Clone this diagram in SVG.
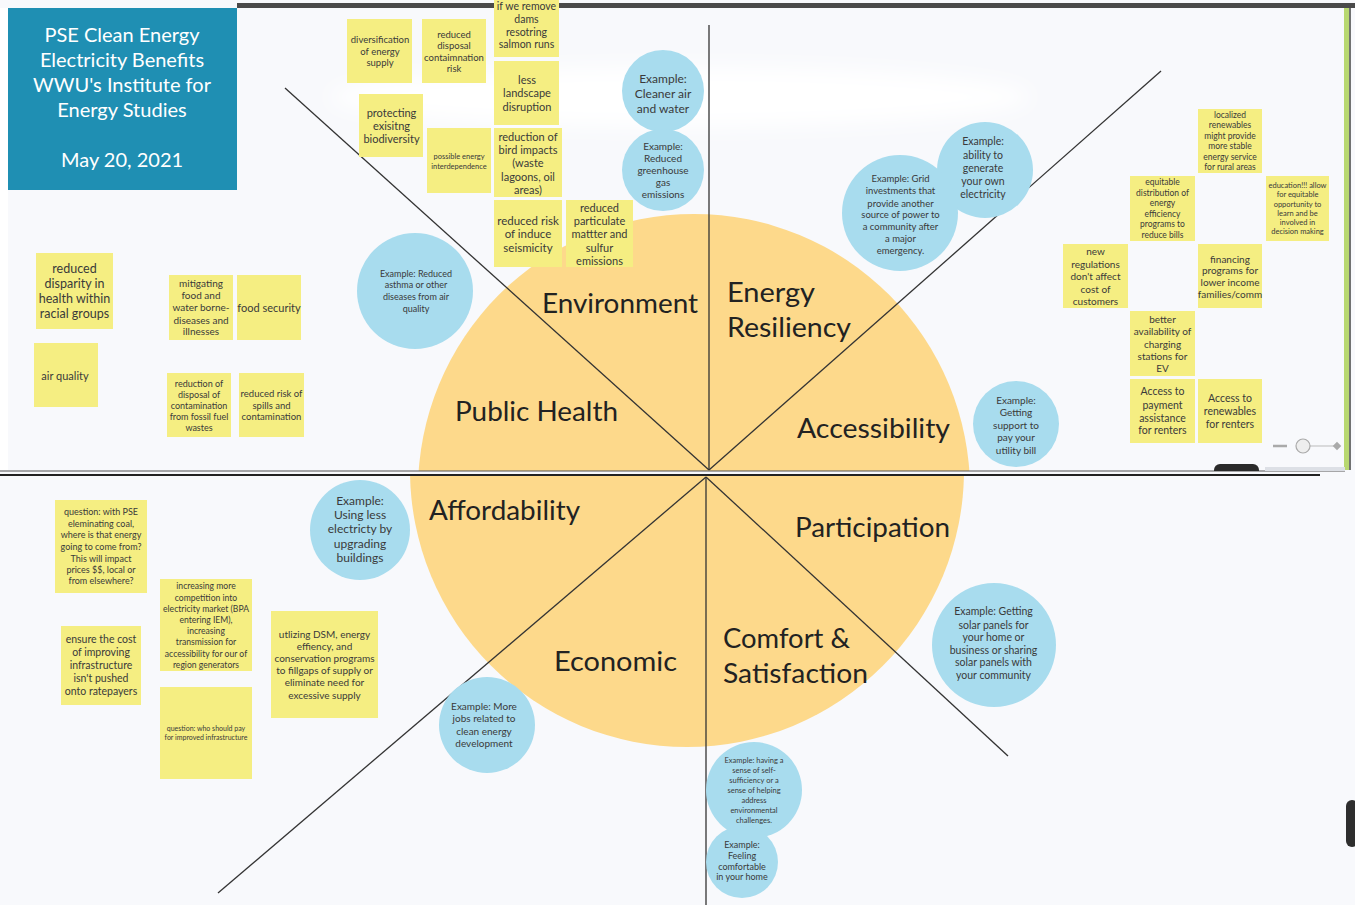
<svg xmlns="http://www.w3.org/2000/svg" width="1355" height="905" viewBox="0 0 1355 905">
<defs>
<style>
.st{fill:#f5ee82;}
.bc{fill:#a8dcee;}
.t{font-family:Lato,"Open Sans","Liberation Sans",sans-serif;fill:#3a3a3a;text-anchor:middle;}
.cat{font-family:Lato,"Open Sans","Liberation Sans",sans-serif;fill:#222;font-size:27px;}
.ln{stroke:#333;stroke-width:1.3;fill:none;}
.ttl{font-family:Lato,"Open Sans","Liberation Sans",sans-serif;fill:#fff;font-size:20px;text-anchor:middle;}
</style>
<clipPath id="topc"><rect x="0" y="0" width="1355" height="471"/></clipPath>
<clipPath id="botc"><rect x="0" y="476" width="1355" height="429"/></clipPath>
<filter id="blur" x="-20%" y="-50%" width="140%" height="200%"><feGaussianBlur stdDeviation="10"/></filter>
</defs>
<rect width="1355" height="905" fill="#f8f9fc"/>
<ellipse cx="680" cy="97" rx="350" ry="30" fill="#ffffff" filter="url(#blur)"/>
<rect x="0" y="8" width="8" height="462" fill="#ffffff"/>
<!-- screenshot frame -->
<rect x="237" y="3" width="1118" height="5" fill="#4a4a4a"/>
<rect x="1344" y="8" width="5" height="462" fill="#b8d870"/>
<line x1="1350" y1="8" x2="1350" y2="470" stroke="#444" stroke-width="1.5"/>
<rect x="1346" y="800" width="12" height="47" rx="6" fill="#2e2e2e"/>
<!-- big circle -->
<g id="wheel">
<circle cx="694" cy="490" r="276" fill="#fdd98b" clip-path="url(#topc)"/>
<circle cx="687" cy="470" r="277" fill="#fdd98b" clip-path="url(#botc)"/>
</g>
<g id="connectors">
<line class="ln" x1="709" y1="25" x2="709" y2="470"/>
<line class="ln" x1="285" y1="88" x2="709" y2="470"/>
<line class="ln" x1="1161" y1="71" x2="709" y2="470"/>
<line x1="0" y1="471" x2="1345" y2="471" stroke="#555" stroke-width="1.2"/>
<line x1="0" y1="475" x2="1320" y2="475" stroke="#222" stroke-width="2"/>
<line class="ln" x1="706" y1="477" x2="706" y2="905"/>
<line class="ln" x1="706" y1="477" x2="218" y2="893"/>
<line class="ln" x1="706" y1="477" x2="1008" y2="756"/>
</g>
<!-- UI bits -->
<g id="ui">
<line x1="1273" y1="446" x2="1287" y2="446" stroke="#aaa" stroke-width="2.5"/>
<line x1="1310" y1="446" x2="1337" y2="446" stroke="#bbb" stroke-width="1"/>
<circle cx="1303" cy="446" r="7" fill="#eeeeee" stroke="#aaa" stroke-width="1.2"/>
<rect x="1334" y="443" width="6" height="6" fill="#aaa" transform="rotate(45 1337 446)"/>
<rect x="1214" y="464" width="45" height="14" rx="6" fill="#2a2a2a" clip-path="url(#topc)"/>
<rect x="1265" y="467" width="80" height="4" fill="#dde0e6"/>
</g>
<!-- title -->
<g id="title">
<rect x="8" y="8" width="229" height="182" fill="#1f8fb3"/>
<text class="ttl"><tspan x="122" y="42">PSE Clean Energy</tspan><tspan x="122" y="67">Electricity Benefits</tspan><tspan x="122" y="92">WWU's Institute for</tspan><tspan x="122" y="117">Energy Studies</tspan><tspan x="122" y="167">May 20, 2021</tspan></text>
</g>
<!-- category labels -->
<g id="categories">
<text class="cat" x="542" y="313" textLength="156" lengthAdjust="spacingAndGlyphs">Environment</text>
<text class="cat" x="727" y="302" textLength="88" lengthAdjust="spacingAndGlyphs">Energy</text>
<text class="cat" x="727" y="337" textLength="124" lengthAdjust="spacingAndGlyphs">Resiliency</text>
<text class="cat" x="455" y="421" textLength="163" lengthAdjust="spacingAndGlyphs">Public Health</text>
<text class="cat" x="797" y="438" textLength="153" lengthAdjust="spacingAndGlyphs">Accessibility</text>
<text class="cat" x="429" y="520" textLength="151" lengthAdjust="spacingAndGlyphs">Affordability</text>
<text class="cat" x="795" y="537" textLength="155" lengthAdjust="spacingAndGlyphs">Participation</text>
<text class="cat" x="554" y="671" textLength="123" lengthAdjust="spacingAndGlyphs">Economic</text>
<text class="cat" x="723" y="648" textLength="127" lengthAdjust="spacingAndGlyphs">Comfort &amp;</text>
<text class="cat" x="723" y="683" textLength="145" lengthAdjust="spacingAndGlyphs">Satisfaction</text>
</g>
<!-- stickies top -->
<g id="s-diversification"><rect class="st" x="347" y="19" width="65" height="64"/><text class="t" font-size="9.5"><tspan x="380" y="43">diversification</tspan><tspan x="380" y="55">of energy</tspan><tspan x="380" y="66">supply</tspan></text></g>
<g id="s-disposal"><rect class="st" x="422" y="19" width="64" height="64"/><text class="t" font-size="9.5"><tspan x="454" y="37.6">reduced</tspan><tspan x="454" y="49.3">disposal</tspan><tspan x="454" y="60.6">contaimnation</tspan><tspan x="454" y="72.3">risk</tspan></text></g>
<g id="s-dams"><rect class="st" x="494" y="0" width="65" height="57"/><text class="t" font-size="10.5"><tspan x="526.5" y="10.4">if we remove</tspan><tspan x="526.5" y="23">dams</tspan><tspan x="526.5" y="35.7">resotring</tspan><tspan x="526.5" y="48">salmon runs</tspan></text></g>
<g id="s-landscape"><rect class="st" x="494" y="61" width="65" height="64"/><text class="t" font-size="11"><tspan x="527" y="83.8">less</tspan><tspan x="527" y="97.1">landscape</tspan><tspan x="527" y="110.5">disruption</tspan></text></g>
<g id="s-biodiversity"><rect class="st" x="359" y="94" width="64" height="63"/><text class="t" font-size="11"><tspan x="391.5" y="116.5">protecting</tspan><tspan x="391.5" y="129.8">exisitng</tspan><tspan x="391.5" y="142.5">biodiversity</tspan></text></g>
<g id="s-interdependence"><rect class="st" x="427" y="128" width="64" height="65"/><text class="t" font-size="7.5"><tspan x="459" y="159.3">possible energy</tspan><tspan x="459" y="168.6">interdependence</tspan></text></g>
<g id="s-bird"><rect class="st" x="494" y="128" width="68" height="69"/><text class="t" font-size="11"><tspan x="528" y="140.5">reduction of</tspan><tspan x="528" y="153.8">bird impacts</tspan><tspan x="528" y="167.1">(waste</tspan><tspan x="528" y="180.5">lagoons, oil</tspan><tspan x="528" y="193.8">areas)</tspan></text></g>
<g id="s-seismicity"><rect class="st" x="494" y="200" width="68" height="67"/><text class="t" font-size="11.5"><tspan x="528" y="224.7">reduced risk</tspan><tspan x="528" y="238.3">of induce</tspan><tspan x="528" y="251.7">seismicity</tspan></text></g>
<g id="s-particulate"><rect class="st" x="566" y="200" width="67" height="67"/><text class="t" font-size="11"><tspan x="599.5" y="211.5">reduced</tspan><tspan x="599.5" y="224.8">particulate</tspan><tspan x="599.5" y="238.1">mattter and</tspan><tspan x="599.5" y="251.5">sulfur</tspan><tspan x="599.5" y="264.5">emissions</tspan></text></g>
<!-- stickies right -->
<g id="s-localized"><rect class="st" x="1198" y="109" width="64" height="64"/><text class="t" font-size="8.5"><tspan x="1230" y="118">localized</tspan><tspan x="1230" y="128.3">renewables</tspan><tspan x="1230" y="138.7">might provide</tspan><tspan x="1230" y="149">more stable</tspan><tspan x="1230" y="159.7">energy service</tspan><tspan x="1230" y="170">for rural areas</tspan></text></g>
<g id="s-equitable"><rect class="st" x="1130" y="176" width="65" height="65"/><text class="t" font-size="8.5"><tspan x="1162.5" y="185.3">equitable</tspan><tspan x="1162.5" y="196">distribution of</tspan><tspan x="1162.5" y="206.3">energy</tspan><tspan x="1162.5" y="217">efficiency</tspan><tspan x="1162.5" y="227.3">programs to</tspan><tspan x="1162.5" y="237.7">reduce bills</tspan></text></g>
<g id="s-education"><rect class="st" x="1266" y="176" width="63" height="65"/><text class="t" font-size="7.5"><tspan x="1297.5" y="188.3">education!!! allow</tspan><tspan x="1297.5" y="197.3">for equitable</tspan><tspan x="1297.5" y="206.6">opportunity to</tspan><tspan x="1297.5" y="215.9">learn and be</tspan><tspan x="1297.5" y="224.9">involved in</tspan><tspan x="1297.5" y="234.3">decision making</tspan></text></g>
<g id="s-regulations"><rect class="st" x="1063" y="244" width="65" height="64"/><text class="t" font-size="10"><tspan x="1095.5" y="255.2">new</tspan><tspan x="1095.5" y="267.5">regulations</tspan><tspan x="1095.5" y="279.8">don't affect</tspan><tspan x="1095.5" y="292.5">cost of</tspan><tspan x="1095.5" y="304.8">customers</tspan></text></g>
<g id="s-financing"><rect class="st" x="1198" y="244" width="64" height="64"/><text class="t" font-size="10"><tspan x="1230" y="262.5">financing</tspan><tspan x="1230" y="274.2">programs for</tspan><tspan x="1230" y="285.8">lower income</tspan><tspan x="1230" y="297.5">families/comm</tspan></text></g>
<g id="s-charging"><rect class="st" x="1130" y="311" width="65" height="65"/><text class="t" font-size="10"><tspan x="1162.5" y="322.5">better</tspan><tspan x="1162.5" y="335.2">availability of</tspan><tspan x="1162.5" y="347.5">charging</tspan><tspan x="1162.5" y="359.5">stations for</tspan><tspan x="1162.5" y="372.2">EV</tspan></text></g>
<g id="s-payment"><rect class="st" x="1130" y="379" width="65" height="64"/><text class="t" font-size="10.5"><tspan x="1162.5" y="395.4">Access to</tspan><tspan x="1162.5" y="408.7">payment</tspan><tspan x="1162.5" y="421.7">assistance</tspan><tspan x="1162.5" y="434.4">for renters</tspan></text></g>
<g id="s-renewables"><rect class="st" x="1198" y="379" width="64" height="64"/><text class="t" font-size="10.5"><tspan x="1230" y="402">Access to</tspan><tspan x="1230" y="415.4">renewables</tspan><tspan x="1230" y="428">for renters</tspan></text></g>
<!-- stickies left -->
<g id="s-disparity"><rect class="st" x="36" y="253" width="77" height="76"/><text class="t" font-size="12.5"><tspan x="74.5" y="273.4">reduced</tspan><tspan x="74.5" y="287.7">disparity in</tspan><tspan x="74.5" y="302.7">health within</tspan><tspan x="74.5" y="317.7">racial groups</tspan></text></g>
<g id="s-air"><rect class="st" x="34" y="343" width="64" height="64"/><text class="t" font-size="11"><tspan x="65" y="379.8">air quality</tspan></text></g>
<g id="s-mitigating"><rect class="st" x="169" y="275" width="64" height="65"/><text class="t" font-size="10"><tspan x="201" y="286.8">mitigating</tspan><tspan x="201" y="298.8">food and</tspan><tspan x="201" y="311.2">water borne-</tspan><tspan x="201" y="323.5">diseases and</tspan><tspan x="201" y="335.2">illnesses</tspan></text></g>
<g id="s-food"><rect class="st" x="237" y="275" width="64" height="65"/><text class="t" font-size="11"><tspan x="269" y="312.1">food security</tspan></text></g>
<g id="s-fossil"><rect class="st" x="167" y="373" width="64" height="64"/><text class="t" font-size="9"><tspan x="199" y="386.5">reduction of</tspan><tspan x="199" y="397.5">disposal of</tspan><tspan x="199" y="408.5">contamination</tspan><tspan x="199" y="419.5">from fossil fuel</tspan><tspan x="199" y="430.5">wastes</tspan></text></g>
<g id="s-spills"><rect class="st" x="239" y="373" width="65" height="64"/><text class="t" font-size="9.5"><tspan x="271.5" y="397.3">reduced risk of</tspan><tspan x="271.5" y="408.6">spills and</tspan><tspan x="271.5" y="419.6">contamination</tspan></text></g>
<!-- stickies bottom-left -->
<g id="s-coal"><rect class="st" x="55" y="500" width="92" height="93"/><text class="t" font-size="9"><tspan x="101" y="514.9">question: with PSE</tspan><tspan x="101" y="526.5">eleminating coal,</tspan><tspan x="101" y="538.2">where is that energy</tspan><tspan x="101" y="549.9">going to come from?</tspan><tspan x="101" y="561.5">This will impact</tspan><tspan x="101" y="572.9">prices $$, local or</tspan><tspan x="101" y="584.2">from elsewhere?</tspan></text></g>
<g id="s-competition"><rect class="st" x="160" y="579" width="92" height="92"/><text class="t" font-size="8.6"><tspan x="206" y="589.2">increasing more</tspan><tspan x="206" y="600.5">competition into</tspan><tspan x="206" y="611.9">electricity market (BPA</tspan><tspan x="206" y="623.2">entering IEM),</tspan><tspan x="206" y="634.2">increasing</tspan><tspan x="206" y="645.2">transmission for</tspan><tspan x="206" y="656.5">accessibility for our of</tspan><tspan x="206" y="667.5">region generators</tspan></text></g>
<g id="s-ratepayers"><rect class="st" x="61" y="626" width="80" height="79"/><text class="t" font-size="10.5"><tspan x="101" y="643">ensure the cost</tspan><tspan x="101" y="656">of improving</tspan><tspan x="101" y="669">infrastructure</tspan><tspan x="101" y="682">isn't pushed</tspan><tspan x="101" y="695">onto ratepayers</tspan></text></g>
<g id="s-dsm"><rect class="st" x="271" y="611" width="107" height="107"/><text class="t" font-size="10"><tspan x="324.5" y="637.5">utlizing DSM, energy</tspan><tspan x="324.5" y="649.8">effiency, and</tspan><tspan x="324.5" y="662.2">conservation programs</tspan><tspan x="324.5" y="674.2">to fillgaps of supply or</tspan><tspan x="324.5" y="686.2">eliminate need for</tspan><tspan x="324.5" y="698.5">excessive supply</tspan></text></g>
<g id="s-whopay"><rect class="st" x="160" y="687" width="92" height="92"/><text class="t" font-size="7"><tspan x="206" y="730.8">question: who should pay</tspan><tspan x="206" y="740.2">for improved infrastructure</tspan></text></g>
<!-- blue example circles -->
<g id="c-cleaner"><circle class="bc" cx="663" cy="91" r="41"/><text class="t" font-size="12"><tspan x="663" y="82.5">Example:</tspan><tspan x="663" y="97.5">Cleaner air</tspan><tspan x="663" y="112.5">and water</tspan></text></g>
<g id="c-greenhouse"><circle class="bc" cx="663" cy="170" r="41"/><text class="t" font-size="10"><tspan x="663" y="150.2">Example:</tspan><tspan x="663" y="162.2">Reduced</tspan><tspan x="663" y="174.2">greenhouse</tspan><tspan x="663" y="186.2">gas</tspan><tspan x="663" y="198.2">emissions</tspan></text></g>
<g id="c-ability"><circle class="bc" cx="985" cy="170" r="48"/><text class="t" font-size="10.5"><tspan x="983" y="145.4">Example:</tspan><tspan x="983" y="158.7">ability to</tspan><tspan x="983" y="172">generate</tspan><tspan x="983" y="184.7">your own</tspan><tspan x="983" y="197.7">electricity</tspan></text></g>
<g id="c-grid"><circle class="bc" cx="900" cy="213" r="58"/><text class="t" font-size="9.5"><tspan x="900.5" y="181.6">Example: Grid</tspan><tspan x="900.5" y="194.3">investments that</tspan><tspan x="900.5" y="206.6">provide another</tspan><tspan x="900.5" y="218.3">source of power to</tspan><tspan x="900.5" y="230">a community after</tspan><tspan x="900.5" y="241.6">a major</tspan><tspan x="900.5" y="254">emergency.</tspan></text></g>
<g id="c-asthma"><circle class="bc" cx="415" cy="291" r="58"/><text class="t" font-size="9"><tspan x="416" y="276.5">Example: Reduced</tspan><tspan x="416" y="288.2">asthma or other</tspan><tspan x="416" y="299.9">diseases from air</tspan><tspan x="416" y="312.2">quality</tspan></text></g>
<g id="c-support"><circle class="bc" cx="1016" cy="424" r="43"/><text class="t" font-size="10"><tspan x="1016" y="403.5">Example:</tspan><tspan x="1016" y="416.2">Getting</tspan><tspan x="1016" y="428.5">support to</tspan><tspan x="1016" y="440.8">pay your</tspan><tspan x="1016" y="453.5">utility  bill</tspan></text></g>
<g id="c-upgrading"><circle class="bc" cx="360" cy="530" r="50"/><text class="t" font-size="12"><tspan x="360" y="504.9">Example:</tspan><tspan x="360" y="518.5">Using less</tspan><tspan x="360" y="533.2">electricty by</tspan><tspan x="360" y="547.5">upgrading</tspan><tspan x="360" y="561.9">buildings</tspan></text></g>
<g id="c-solar"><circle class="bc" cx="994" cy="645" r="62"/><text class="t" font-size="10.5"><tspan x="993.5" y="615.4">Example: Getting</tspan><tspan x="993.5" y="628.7">solar panels for</tspan><tspan x="993.5" y="641">your home or</tspan><tspan x="993.5" y="653.7">business or sharing</tspan><tspan x="993.5" y="666.4">solar panels with</tspan><tspan x="993.5" y="679.4">your community</tspan></text></g>
<g id="c-jobs"><circle class="bc" cx="487" cy="725" r="48"/><text class="t" font-size="10"><tspan x="484" y="709.5">Example: More</tspan><tspan x="484" y="721.8">jobs related to</tspan><tspan x="484" y="734.5">clean energy</tspan><tspan x="484" y="746.8">development</tspan></text></g>
<g id="c-selfsufficiency"><circle class="bc" cx="754" cy="790" r="48"/><text class="t" font-size="7.5"><tspan x="754" y="763.3">Example: having a</tspan><tspan x="754" y="773.3">sense of self-</tspan><tspan x="754" y="783.3">sufficiency or a</tspan><tspan x="754" y="793.3">sense of helping</tspan><tspan x="754" y="803.3">address</tspan><tspan x="754" y="813.3">environmental</tspan><tspan x="754" y="823.3">challenges.</tspan></text></g>
<g id="c-comfortable"><circle class="bc" cx="742" cy="862" r="36"/><text class="t" font-size="9"><tspan x="742" y="848.2">Example:</tspan><tspan x="742" y="859.2">Feeling</tspan><tspan x="742" y="869.9">comfortable</tspan><tspan x="742" y="879.9">in your home</tspan></text></g>
</svg>
